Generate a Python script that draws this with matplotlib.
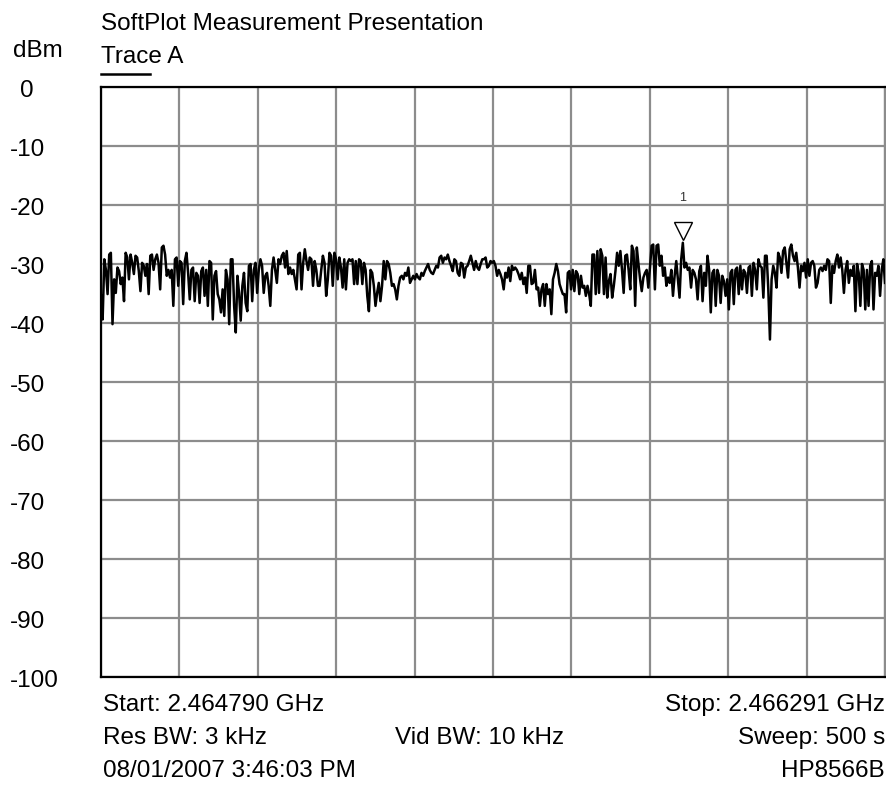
import numpy as np
import matplotlib
matplotlib.use("Agg")
import matplotlib.pyplot as plt
from matplotlib.transforms import blended_transform_factory

plt.rcParams['font.family'] = ['Liberation Sans', 'DejaVu Sans']

start_ghz = 2.464790
stop_ghz = 2.466291
y_ticks = [0, -10, -20, -30, -40, -50, -60, -70, -80, -90, -100]
y_tick_labels = ["0", "-10", "-20", "-30", "-40", "-50", "-60", "-70", "-80", "-90", "-100"]

seg1 = [-35.4, -39.4, -29.2, -31, -35.1, -28.4, -28.1, -40.2, -32.6, -34.9, -30.6, -31.2, -33.4, -32.3,
        -36.3, -28.1, -28.9, -32.6, -28.4, -29.8, -31.7, -28.6, -28.9, -31.2, -34.6, -29.8, -30.3, -32,
        -30, -35.1, -28.6, -28.4, -31, -29.2, -28.4, -29.8, -34.3, -27.2, -26.9, -28.4, -32, -31, -32.3,
        -31, -37.1, -29.2, -28.9, -33.7, -29.5, -29.8, -36.8, -29.5, -28.1, -31.5, -36, -31, -30.6, -36.3,
        -31.5, -32, -36.6, -31.2, -30.6, -35.4, -31, -37.1, -29.5, -29.8, -39.4, -32, -31.2, -35.1, -36,
        -38.2, -34.3]
seg2 = [-38.8, -31, -32.6, -40.2, -29.2, -29.2, -37.1, -41.6, -32, -34.9, -39.6, -33.7, -31.5, -36.6,
        -38, -30.3, -30, -36.3, -31, -29.8, -34.9, -31, -29.2, -30.3, -34.9, -32, -31.5, -33.7, -37.1,
        -31, -28.9, -31, -33.2, -29.2, -30, -28.6, -28.1, -30.6, -27.8, -31.7, -30.6, -31.7, -31, -32.6,
        -34.3, -28.4, -28.1, -34.3, -29.8, -27.5, -29.5, -31, -28.9, -29.2, -33.7, -29.5, -31, -33.7,
        -33.7, -31, -28.6, -29.8, -35.4, -32.6, -28.1, -28.6, -33.7, -28.1, -29.2, -32.6, -28.9, -30.6,
        -34, -29.2, -34.3, -29.8, -29.2]
seg3 = [-29.5, -29.2, -33.4, -29.5, -33.4, -29.2, -29.5, -33.4, -29.8, -31, -35.4, -38, -31, -31.5,
        -33.7, -37.1, -34.9, -33.2, -36.3, -33.7, -29.5, -32.6, -29.5, -30, -31.5, -33.7, -33.4, -34.3,
        -36, -33.7, -32.3, -32, -32.6, -31.5, -32, -30.6, -33.2, -32.6, -32, -32.6, -31.7, -32.3, -32.6,
        -31.5, -32, -31.2, -30.6, -30, -31, -31.5, -31.7, -31, -30.3, -30.6, -28.9, -28.6, -29.8, -28.9,
        -29.2, -28.4, -29.5, -30.3, -31.2, -29.2, -29.5, -31.5, -32, -29.8, -30, -32.3, -30.6, -30.3,
        -29.5, -28.6, -29.8, -31, -29.5, -30.6, -31, -30, -29.2]
seg4 = [-29.2, -28.9, -30.6, -30.3, -29.5, -29.8, -29.5, -30.3, -32, -31, -31.7, -32.6, -34.3, -31.5,
        -32.3, -30.6, -32.9, -30.3, -31, -30.6, -31, -31.7, -32.6, -31.5, -33.4, -32.3, -34.9, -30.3,
        -30.3, -33.4, -33.2, -31, -34.3, -34, -37.1, -34.3, -33.4, -37.1, -33.4, -35.1, -34.3, -38.5,
        -32.6, -31.5, -30, -31.2, -33.4, -34.3, -35.1, -35.1, -38.2, -31.5, -31.2, -34.3, -31, -34.6,
        -31.2, -31.7, -35.1, -32, -34, -33.7, -35.4, -33.7, -35.1, -37.1, -28.4, -28.4, -35.1, -27.8,
        -34.9, -27.5, -28.6, -35.1, -28.9, -35.7, -32.9, -31.7, -35.7, -33.7, -31.2, -28.1]
seg5 = [-30.3, -27.8, -31, -34.9, -28.6, -28.4, -31, -34.3, -26.9, -27.8, -37.1, -27.2, -30, -32.6,
        -34.6, -32.3, -31.5, -31, -34, -30.6, -26.9, -26.7, -34.3, -26.9, -26.7, -30.3, -28.6, -32,
        -30.6, -33.7, -32.3, -33.2, -31, -35.4, -32, -29.5, -32.6, -35.7, -29.2, -26.4, -30.6, -29.8,
        -31, -30.6, -34, -31, -31.5, -32.6, -36, -31.2, -30.3, -36.3, -31.5, -33.7, -28.6, -31, -38.2,
        -31.5, -31, -37.1, -31, -32, -36.6, -32, -32.9, -35.4, -32.6, -37.7, -31.5, -31, -36.8, -31,
        -30.6, -35.1, -30.3, -34.3, -31, -31.5, -34.9, -30.6]
seg6 = [-30.3, -35.4, -29.8, -31, -34.3, -29.2, -30.3, -30.6, -35.7, -28.6, -28.6, -34.3, -42.8, -32.6,
        -30.3, -31.5, -34, -28.1, -28.9, -31.5, -27.8, -27.2, -29.8, -32.3, -27.5, -26.7, -28.6, -29.5,
        -28.1, -30.6, -34, -30.3, -31.2, -29.8, -32.3, -29.2, -32, -29.8, -29.5, -30.3, -34, -33.2, -31,
        -30.6, -31.2, -30.3, -31, -29.2, -29.5, -36.6, -30.3, -31.5, -29.5, -28.4, -30.6, -28.9, -31,
        -34.9, -31, -29.5, -33.2, -31, -32, -30.3, -38, -30, -31.5, -37.1, -30, -31, -37.7, -31, -37.1,
        -30.3, -29.5, -37.7, -31.5, -32, -30.3, -35.4, -31, -29.2, -33.2]

trace_dbm = np.array(seg1 + seg2 + seg3 + seg4 + seg5 + seg6)
freq = np.linspace(start_ghz, stop_ghz, len(trace_dbm))

fig = plt.figure(figsize=(8.86, 7.89), dpi=100)
ax = fig.add_axes([101 / 886, 1 - 677 / 789, 784 / 886, 590 / 789])
ax.set_xlim(start_ghz, stop_ghz)
ax.set_ylim(-100, 0)
ax.set_xticks(np.linspace(start_ghz, stop_ghz, 11))
ax.set_yticks(y_ticks)
ax.tick_params(length=0, labelbottom=False, labelleft=False)
ax.grid(True, color='#8c8c8c', lw=1.6)
for s in ax.spines.values():
    s.set_color('black')
    s.set_linewidth(1.6)
ax.spines['right'].set_color('#8c8c8c')

ax.plot(freq, trace_dbm, color='black', lw=1.8, zorder=3)

mi = int(np.argmax(trace_dbm))
ax.plot(freq[mi], trace_dbm[mi] + 2.0, marker='v', markersize=13, mfc='none', mec='black', mew=1.0, zorder=4)
ax.text(freq[mi], trace_dbm[mi] + 7.6, "1", ha='center', va='center', fontsize=9, color='#333333')

fs = 17.5

# y labels
tr = blended_transform_factory(fig.transFigure, ax.transData)
for v, lab in zip(y_ticks, y_tick_labels):
    xpix = 20 if lab == "0" else 10
    ax.text(xpix / 886, v - 0.6, lab, transform=tr, ha='left', va='center', fontsize=fs, clip_on=False)

def ftext(x, y, s, ha='left'):
    fig.text(x / 886, 1 - y / 789, s, ha=ha, va='center', fontsize=fs)

ftext(101, 24, "SoftPlot Measurement Presentation")
ftext(13, 51, "dBm")
ftext(101, 57, "Trace A")
fig.add_artist(plt.Line2D([101 / 886, 150 / 886], [1 - 74 / 789, 1 - 74 / 789], color='black', lw=1.8))

ftext(103, 705, "Start: 2.464790 GHz")
ftext(885, 705, "Stop: 2.466291 GHz", ha='right')
ftext(103, 738, "Res BW: 3 kHz")
ftext(480, 738, "Vid BW: 10 kHz", ha='center')
ftext(885, 738, "Sweep: 500 s", ha='right')
ftext(103, 771, "08/01/2007 3:46:03 PM")
ftext(885, 771, "HP8566B", ha='right')

fig.savefig("out.png", dpi=100)
